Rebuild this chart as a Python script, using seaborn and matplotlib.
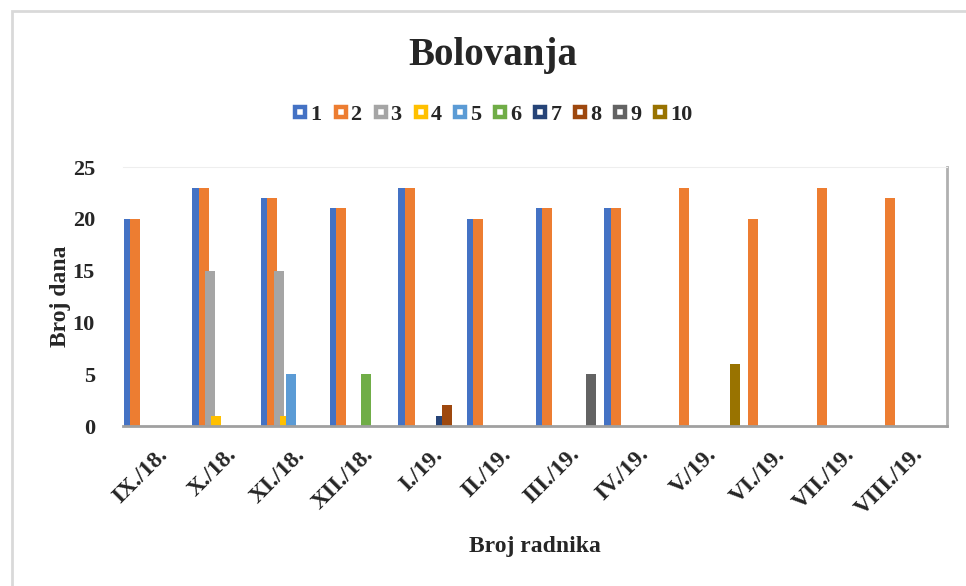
import matplotlib.pyplot as plt
import pandas as pd
import seaborn as sns
from matplotlib.lines import Line2D
from matplotlib.patches import Rectangle

# podaci (broj dana bolovanja po mjesecu, za svakog radnika)
mjeseci = ['IX./18.', 'X./18.', 'XI./18.', 'XII./18.', 'I./19.', 'II./19.',
           'III./19.', 'IV./19.', 'V./19.', 'VI./19.', 'VII./19.', 'VIII./19.']
radnici = ['1', '2', '3', '4', '5', '6', '7', '8', '9', '10']

r1 = [20, 23, 22, 21, 23, 20, 21, 21, 0, 0, 0, 0]
r2 = [20, 23, 22, 21, 23, 20, 21, 21, 23, 20, 23, 22]
r3 = [0, 15, 15, 0, 0, 0, 0, 0, 0, 0, 0, 0]
r4 = [0, 1, 1, 0, 0, 0, 0, 0, 0, 0, 0, 0]
r5 = [0, 0, 5, 0, 0, 0, 0, 0, 0, 0, 0, 0]
r6 = [0, 0, 0, 5, 0, 0, 0, 0, 0, 0, 0, 0]
r7 = [0, 0, 0, 0, 1, 0, 0, 0, 0, 0, 0, 0]
r8 = [0, 0, 0, 0, 2, 0, 0, 0, 0, 0, 0, 0]
r9 = [0, 0, 0, 0, 0, 0, 5, 0, 0, 0, 0, 0]
r10 = [0, 0, 0, 0, 0, 0, 0, 0, 6, 0, 0, 0]

boje = ['#4472C4', '#ED7D31', '#A5A5A5', '#FFC000', '#5B9BD5',
        '#70AD47', '#264478', '#9E480E', '#636363', '#997300']

serije = [r1, r2, r3, r4, r5, r6, r7, r8, r9, r10]
df = pd.DataFrame({
    'mjesec': mjeseci * len(radnici),
    'radnik': [r for r in radnici for _ in mjeseci],
    'dani': [v for s in serije for v in s],
})

sns.set_style('white')
plt.rcParams['font.family'] = ['Liberation Serif', 'DejaVu Serif']
plt.rcParams['font.weight'] = 'bold'

fig = plt.figure(figsize=(9.66, 5.86), dpi=100)
ax = fig.add_axes([0.127, 0.273, 0.853, 0.442])

sns.barplot(data=df, x='mjesec', y='dani', hue='radnik', order=mjeseci,
            hue_order=radnici, palette=boje, width=0.92, dodge=True,
            errorbar=None, linewidth=0, saturation=1, legend=False, ax=ax)

# Excel-style overlap: widen each bar around its own centre
w = 0.146
for p in ax.patches:
    c = p.get_x() + p.get_width() / 2
    p.set_width(w)
    p.set_x(c - w / 2)

ax.set_ylim(0, 25)
ax.set_yticks([0, 5, 10, 15, 20, 25])
ax.set_xlim(-0.5, len(mjeseci) - 0.5)
ax.tick_params(axis='y', length=0, pad=20, labelsize=16)
ax.tick_params(axis='x', length=0, pad=13, labelsize=17)
for lab in ax.get_xticklabels():
    lab.set_rotation(45)
    lab.set_ha('right')
    lab.set_rotation_mode('anchor')
for lab in ax.get_xticklabels() + ax.get_yticklabels():
    lab.set_fontweight('bold')

ax.set_xlabel('Broj radnika', fontsize=17, fontweight='bold')
ax.set_ylabel('Broj dana', fontsize=17, fontweight='bold')
ax.xaxis.label.set_va('center')
ax.yaxis.label.set_va('center')
ax.xaxis.set_label_coords(0.5, -0.467)
ax.yaxis.set_label_coords(-0.076, 0.5)

ax.spines['left'].set_visible(False)
ax.spines['top'].set_color('#eeeeee')
ax.spines['right'].set_color('#b0b0b0')
ax.spines['right'].set_linewidth(2)
ax.spines['bottom'].set_color('#a0a0a0')
ax.spines['bottom'].set_linewidth(2)

fig.suptitle('Bolovanja', x=0.51, y=0.906, va='center', fontsize=28, fontweight='bold')

ruke = [Line2D([], [], linestyle='none', marker='s', markersize=6.5, markeredgewidth=3.2,
               markerfacecolor='white', markeredgecolor=b) for b in boje]
fig.legend(ruke, radnici, loc='center', bbox_to_anchor=(0.51, 0.805), ncol=10,
           frameon=False, handlelength=0.7, handletextpad=0.1, columnspacing=0.5,
           prop={'size': 16, 'weight': 'bold'})

# okvir grafikona
fig.patches.append(Rectangle((12 / 966, -0.1), 1.2, 1 - 11 / 586 + 0.1,
                             transform=fig.transFigure, fill=False,
                             edgecolor='#d9d9d9', linewidth=2))

fig.savefig('out.png', dpi=100)
